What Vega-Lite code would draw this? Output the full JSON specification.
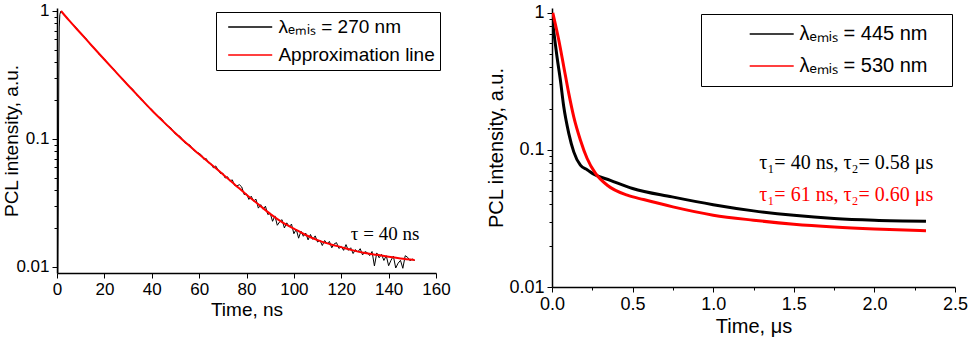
{
 "$schema": "https://vega.github.io/schema/vega-lite/v6.json",
 "padding": {"left": 2, "top": 1, "right": 5, "bottom": 1},
 "spacing": 116,
 "bounds": "flush",
 "resolve": {"scale": {"color": "independent"}, "legend": {"color": "independent"}},
 "config": {
  "font": "Liberation Sans",
  "view": {"stroke": null},
  "axis": {"domainColor": "#000000", "domainWidth": 1.5, "tickColor": "#000000", "tickWidth": 1, "labelColor": "#000000", "titleColor": "#000000", "titleFontWeight": "normal", "grid": false, "labelFlush": false, "labelOverlap": false, "labelFont": "Liberation Sans", "titleFont": "Liberation Sans"},
  "legend": {"labelColor": "#000000", "labelFont": "Liberation Sans"}
 },
 "datasets": {
  "left": [
   {"t":0.35,"v":0.009,"s":"d"},{"t":0.55,"v":0.04,"s":"d"},{"t":0.75,"v":0.3,"s":"d"},{"t":0.95,"v":0.75,"s":"d"},{"t":1.2,"v":0.94,"s":"d"},{"t":1.6,"v":0.995,"s":"d"},
   {"t":2,"v":0.9766,"s":"d"},{"t":4,"v":0.8967,"s":"d"},{"t":6,"v":0.8027,"s":"d"},{"t":8,"v":0.746,"s":"d"},{"t":10,"v":0.6668,"s":"d"},
   {"t":12,"v":0.6193,"s":"d"},{"t":14,"v":0.5479,"s":"d"},{"t":16,"v":0.5088,"s":"d"},{"t":18,"v":0.4527,"s":"d"},{"t":20,"v":0.4227,"s":"d"},
   {"t":22,"v":0.3773,"s":"d"},{"t":24,"v":0.3516,"s":"d"},{"t":26,"v":0.3126,"s":"d"},{"t":28,"v":0.2931,"s":"d"},{"t":30,"v":0.2612,"s":"d"},
   {"t":32,"v":0.2447,"s":"d"},{"t":34,"v":0.2166,"s":"d"},{"t":36,"v":0.2031,"s":"d"},{"t":38,"v":0.1806,"s":"d"},{"t":40,"v":0.1702,"s":"d"},
   {"t":42,"v":0.1526,"s":"d"},{"t":44,"v":0.1449,"s":"d"},{"t":46,"v":0.1289,"s":"d"},{"t":48,"v":0.1227,"s":"d"},{"t":50,"v":0.1091,"s":"d"},
   {"t":52,"v":0.1047,"s":"d"},{"t":54,"v":0.0931,"s":"d"},{"t":56,"v":0.09,"s":"d"},{"t":58,"v":0.0805,"s":"d"},{"t":60,"v":0.0773,"s":"d"},
   {"t":61,"v":0.07488,"s":"d"},{"t":62,"v":0.06931,"s":"d"},{"t":63,"v":0.07034,"s":"d"},{"t":64,"v":0.06496,"s":"d"},{"t":65,"v":0.06427,"s":"d"},
   {"t":66,"v":0.05953,"s":"d"},{"t":67,"v":0.06157,"s":"d"},{"t":68,"v":0.05753,"s":"d"},{"t":69,"v":0.05375,"s":"d"},{"t":70,"v":0.05408,"s":"d"},
   {"t":71,"v":0.04955,"s":"d"},{"t":72,"v":0.0507,"s":"d"},{"t":73,"v":0.04688,"s":"d"},{"t":74,"v":0.04797,"s":"d"},{"t":75,"v":0.04335,"s":"d"},
   {"t":76,"v":0.04305,"s":"d"},{"t":77,"v":0.04395,"s":"d"},{"t":78,"v":0.04217,"s":"d"},{"t":79,"v":0.03681,"s":"d"},{"t":80,"v":0.03724,"s":"d"},
   {"t":81,"v":0.03373,"s":"d"},{"t":82,"v":0.03573,"s":"d"},{"t":83,"v":0.03273,"s":"d"},{"t":84,"v":0.03388,"s":"d"},{"t":85,"v":0.02884,"s":"d"},
   {"t":86,"v":0.03069,"s":"d"},{"t":87,"v":0.02831,"s":"d"},{"t":88,"v":0.02985,"s":"d"},{"t":89,"v":0.0257,"s":"d"},{"t":90,"v":0.0263,"s":"d"},
   {"t":91,"v":0.02275,"s":"d"},{"t":92,"v":0.02506,"s":"d"},{"t":93,"v":0.02118,"s":"d"},{"t":94,"v":0.02254,"s":"d"},{"t":95,"v":0.02344,"s":"d"},
   {"t":96,"v":0.02018,"s":"d"},{"t":97,"v":0.02213,"s":"d"},{"t":98,"v":0.02065,"s":"d"},{"t":99,"v":0.02163,"s":"d"},{"t":100,"v":0.0182,"s":"d"},
   {"t":101,"v":0.01972,"s":"d"},{"t":102,"v":0.01679,"s":"d"},{"t":103,"v":0.01905,"s":"d"},{"t":104,"v":0.01738,"s":"d"},{"t":105,"v":0.01841,"s":"d"},
   {"t":106,"v":0.01629,"s":"d"},{"t":107,"v":0.01795,"s":"d"},{"t":108,"v":0.01644,"s":"d"},{"t":109,"v":0.0175,"s":"d"},{"t":110,"v":0.01567,"s":"d"},
   {"t":111,"v":0.01618,"s":"d"},{"t":112,"v":0.01472,"s":"d"},{"t":113,"v":0.01611,"s":"d"},{"t":114,"v":0.01517,"s":"d"},{"t":115,"v":0.01585,"s":"d"},
   {"t":116,"v":0.01413,"s":"d"},{"t":117,"v":0.01514,"s":"d"},{"t":118,"v":0.01549,"s":"d"},{"t":119,"v":0.01396,"s":"d"},{"t":120,"v":0.01445,"s":"d"},
   {"t":121,"v":0.01349,"s":"d"},{"t":122,"v":0.01496,"s":"d"},{"t":123,"v":0.01349,"s":"d"},{"t":124,"v":0.01413,"s":"d"},{"t":125,"v":0.01274,"s":"d"},
   {"t":126,"v":0.01368,"s":"d"},{"t":127,"v":0.01309,"s":"d"},{"t":128,"v":0.0139,"s":"d"},{"t":129,"v":0.01242,"s":"d"},{"t":130,"v":0.01318,"s":"d"},
   {"t":131,"v":0.01294,"s":"d"},{"t":132,"v":0.01227,"s":"d"},{"t":133,"v":0.01321,"s":"d"},{"t":134,"v":0.01019,"s":"d"},{"t":135,"v":0.01288,"s":"d"},
   {"t":136,"v":0.0118,"s":"d"},{"t":137,"v":0.01256,"s":"d"},{"t":138,"v":0.01125,"s":"d"},{"t":139,"v":0.01225,"s":"d"},{"t":140,"v":0.01023,"s":"d"},
   {"t":141,"v":0.01128,"s":"d"},{"t":142,"v":0.01216,"s":"d"},{"t":143,"v":0.00982,"s":"d"},{"t":144,"v":0.01071,"s":"d"},{"t":145,"v":0.01127,"s":"d"},
   {"t":146,"v":0.00977,"s":"d"},{"t":147,"v":0.01225,"s":"d"},{"t":148,"v":0.01191,"s":"d"},{"t":149,"v":0.01119,"s":"d"},{"t":150,"v":0.01153,"s":"d"},
   {"t":151,"v":0.01122,"s":"d"},
   {"t":1.7,"v":1.0,"s":"f"},{"t":5,"v":0.8472,"s":"f"},{"t":10,"v":0.6699,"s":"f"},{"t":15,"v":0.5284,"s":"f"},{"t":20,"v":0.4178,"s":"f"},
   {"t":25,"v":0.3311,"s":"f"},{"t":30,"v":0.263,"s":"f"},{"t":35,"v":0.2099,"s":"f"},{"t":40,"v":0.1679,"s":"f"},{"t":45,"v":0.1361,"s":"f"},
   {"t":50,"v":0.1109,"s":"f"},{"t":55,"v":0.0912,"s":"f"},{"t":60,"v":0.0759,"s":"f"},{"t":65,"v":0.0634,"s":"f"},{"t":70,"v":0.0531,"s":"f"},
   {"t":75,"v":0.0442,"s":"f"},{"t":80,"v":0.0367,"s":"f"},{"t":85,"v":0.0309,"s":"f"},{"t":90,"v":0.026,"s":"f"},{"t":95,"v":0.0224,"s":"f"},
   {"t":100,"v":0.01995,"s":"f"},{"t":105,"v":0.01778,"s":"f"},{"t":110,"v":0.01622,"s":"f"},{"t":115,"v":0.01514,"s":"f"},{"t":120,"v":0.01429,"s":"f"},
   {"t":125,"v":0.01349,"s":"f"},{"t":130,"v":0.01288,"s":"f"},{"t":135,"v":0.01245,"s":"f"},{"t":140,"v":0.01202,"s":"f"},{"t":145,"v":0.01167,"s":"f"},
   {"t":151,"v":0.01135,"s":"f"}
  ],
  "right": [
   {"t":0,"v":0.92,"s":"b"},{"t":0.01,"v":0.745,"s":"b"},{"t":0.02,"v":0.6,"s":"b"},{"t":0.031,"v":0.477,"s":"b"},{"t":0.052,"v":0.323,"s":"b"},
   {"t":0.073,"v":0.206,"s":"b"},{"t":0.104,"v":0.132,"s":"b"},{"t":0.135,"v":0.0967,"s":"b"},{"t":0.176,"v":0.0773,"s":"b"},{"t":0.22,"v":0.0714,"s":"b"},
   {"t":0.259,"v":0.0665,"s":"b"},{"t":0.362,"v":0.06,"s":"b"},{"t":0.5,"v":0.0523,"s":"b"},{"t":0.745,"v":0.0454,"s":"b"},{"t":1.0,"v":0.0398,"s":"b"},
   {"t":1.25,"v":0.0359,"s":"b"},{"t":1.5,"v":0.0333,"s":"b"},{"t":1.75,"v":0.0316,"s":"b"},{"t":2.0,"v":0.0307,"s":"b"},{"t":2.32,"v":0.0302,"s":"b"},
   {"t":0.005,"v":1.0,"s":"r"},{"t":0.042,"v":0.632,"s":"r"},{"t":0.073,"v":0.404,"s":"r"},{"t":0.104,"v":0.258,"s":"r"},{"t":0.135,"v":0.174,"s":"r"},
   {"t":0.176,"v":0.118,"s":"r"},{"t":0.218,"v":0.0865,"s":"r"},{"t":0.27,"v":0.0673,"s":"r"},{"t":0.343,"v":0.0552,"s":"r"},{"t":0.467,"v":0.0467,"s":"r"},
   {"t":0.568,"v":0.0434,"s":"r"},{"t":0.75,"v":0.0384,"s":"r"},{"t":1.0,"v":0.0334,"s":"r"},{"t":1.25,"v":0.0307,"s":"r"},{"t":1.5,"v":0.0287,"s":"r"},
   {"t":1.75,"v":0.0274,"s":"r"},{"t":2.0,"v":0.0265,"s":"r"},{"t":2.32,"v":0.0257,"s":"r"}
  ],
  "notesL": [{"label": "τ = 40 ns"}],
  "notesR1": [{"label": "τ₁= 40 ns, τ₂= 0.58 μs"}],
  "notesR2": [{"label": "τ₁= 61 ns, τ₂= 0.60 μs"}]
 },
 "hconcat": [
  {
   "width": 379,
   "height": 265,
   "layer": [
    {"data": {"name": "left"}, "transform": [{"filter": "datum.s == 'd'"}], "mark": {"type": "line", "strokeWidth": 1, "clip": true},
     "encoding": {
      "x": {"field": "t", "type": "quantitative",
       "scale": {"domain": [0, 160], "nice": false, "zero": false},
       "axis": {"title": "Time, ns", "values": [0,10,20,30,40,50,60,70,80,90,100,110,120,130,140,150,160], "format": "d",
        "labelExpr": "datum.value % 20 == 0 ? datum.label : ''",
        "tickSize": {"condition": {"test": "datum.value % 20 == 0", "value": 5}, "value": 3},
        "labelFontSize": 17, "titleFontSize": 19, "labelPadding": 3, "titlePadding": 3}},
      "y": {"field": "v", "type": "quantitative",
       "scale": {"type": "log", "domain": [0.008976, 1.0554], "nice": false},
       "axis": {"title": "PCL intensity, a.u.", "values": [0.01,0.02,0.03,0.04,0.05,0.06,0.07,0.08,0.09,0.1,0.2,0.3,0.4,0.5,0.6,0.7,0.8,0.9,1],
        "labelExpr": "datum.value == 1 ? '1' : datum.value == 0.1 ? '0.1' : datum.value == 0.01 ? '0.01' : ''",
        "tickSize": {"condition": {"test": "datum.value == 1 || datum.value == 0.1 || datum.value == 0.01", "value": 5}, "value": 3},
        "labelFontSize": 17, "titleFontSize": 19, "labelPadding": 3, "titlePadding": -6}},
      "color": {"field": "s", "type": "nominal",
       "scale": {"domain": ["d", "f"], "range": ["#000000", "#ff0000"]},
       "legend": {"orient": "none", "legendX": 159, "legendY": 4, "title": null, "strokeColor": "#000000", "fillColor": "#ffffff",
        "padding": 5, "rowPadding": 8, "labelFontSize": 19, "labelLimit": 400,
        "symbolType": "M-2.5,0H2.5", "symbolSize": 310, "symbolStrokeWidth": 1.5, "symbolOffset": 19.2, "labelOffset": 18.2,
        "labelExpr": "datum.value == 'd' ? 'λₑₘᵢₛ = 270 nm' : 'Approximation line'"}}
     }},
    {"data": {"name": "left"}, "transform": [{"filter": "datum.s == 'f'"}], "mark": {"type": "line", "strokeWidth": 2, "interpolate": "monotone", "clip": true},
     "encoding": {
      "x": {"field": "t", "type": "quantitative"},
      "y": {"field": "v", "type": "quantitative"},
      "color": {"field": "s", "type": "nominal"}
     }},
    {"data": {"name": "notesL"}, "mark": {"type": "text", "font": "Liberation Serif", "fontSize": 19, "align": "center", "baseline": "middle", "color": "#000000"},
     "encoding": {"x": {"datum": 138.5}, "y": {"datum": 0.0182}, "text": {"field": "label", "type": "nominal"}}}
   ]
  },
  {
   "width": 403,
   "height": 279,
   "layer": [
    {"data": {"name": "right"}, "mark": {"type": "line", "strokeWidth": 3, "interpolate": "monotone", "clip": true},
     "encoding": {
      "x": {"field": "t", "type": "quantitative",
       "scale": {"domain": [0, 2.5], "nice": false, "zero": false},
       "axis": {"title": "Time, μs", "values": [0,0.25,0.5,0.75,1,1.25,1.5,1.75,2,2.25,2.5], "format": ".1f",
        "labelExpr": "abs(datum.value*2 - round(datum.value*2)) < 0.001 ? datum.label : ''",
        "tickSize": {"condition": {"test": "abs(datum.value*2 - round(datum.value*2)) < 0.001", "value": 5}, "value": 3},
        "labelFontSize": 18, "titleFontSize": 20, "labelPadding": 3, "titlePadding": 3}},
      "y": {"field": "v", "type": "quantitative",
       "scale": {"type": "log", "domain": [0.01, 1.0825], "nice": false},
       "axis": {"title": "PCL intensity, a.u.", "values": [0.01,0.02,0.03,0.04,0.05,0.06,0.07,0.08,0.09,0.1,0.2,0.3,0.4,0.5,0.6,0.7,0.8,0.9,1],
        "labelExpr": "datum.value == 1 ? '1' : datum.value == 0.1 ? '0.1' : datum.value == 0.01 ? '0.01' : ''",
        "tickSize": {"condition": {"test": "datum.value == 1 || datum.value == 0.1 || datum.value == 0.01", "value": 5}, "value": 3},
        "labelFontSize": 18, "titleFontSize": 20, "labelPadding": 3, "titlePadding": 2}},
      "color": {"field": "s", "type": "nominal",
       "scale": {"domain": ["b", "r"], "range": ["#000000", "#ff0000"]},
       "legend": {"orient": "none", "legendX": 149, "legendY": 6, "title": ".", "titleOrient": "right", "titleOpacity": 0, "titleFontSize": 10, "titlePadding": 12,
        "strokeColor": "#000000", "fillColor": "#ffffff",
        "padding": 10, "rowPadding": 12, "labelFontSize": 20, "labelLimit": 400,
        "symbolType": "M-2.5,0H2.5", "symbolSize": 310, "symbolStrokeWidth": 1.5, "symbolOffset": 50.7, "labelOffset": 17.7,
        "labelExpr": "datum.value == 'b' ? 'λₑₘᵢₛ = 445 nm' : 'λₑₘᵢₛ = 530 nm'"}}
     }},
    {"data": {"name": "notesR1"}, "mark": {"type": "text", "font": "Liberation Serif", "fontSize": 20, "align": "right", "baseline": "middle", "color": "#000000"},
     "encoding": {"x": {"datum": 2.365}, "y": {"datum": 0.08}, "text": {"field": "label", "type": "nominal"}}},
    {"data": {"name": "notesR2"}, "mark": {"type": "text", "font": "Liberation Serif", "fontSize": 20, "align": "right", "baseline": "middle", "color": "#ff0000"},
     "encoding": {"x": {"datum": 2.365}, "y": {"datum": 0.0467}, "text": {"field": "label", "type": "nominal"}}}
   ]
  }
 ]
}
